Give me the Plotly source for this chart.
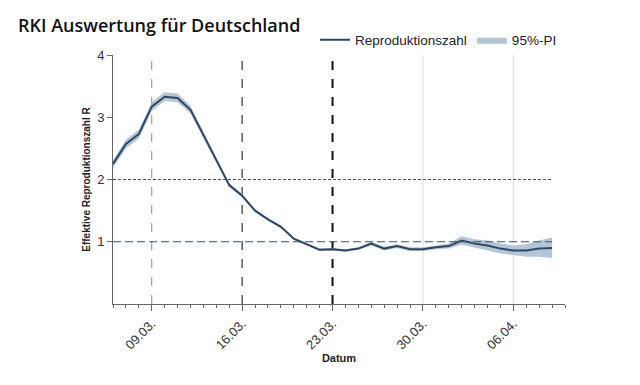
import plotly.graph_objects as go

dates = ["2020-03-%02d" % d for d in range(6, 32)] + ["2020-04-%02d" % d for d in range(1, 10)]
r_values = [2.25, 2.57, 2.73, 3.17, 3.33, 3.31, 3.12, 2.72, 2.31, 1.91,
            1.74, 1.50, 1.36, 1.24, 1.05, 0.96, 0.87, 0.88, 0.86, 0.89,
            0.97, 0.89, 0.93, 0.88, 0.88, 0.91, 0.93, 1.02, 0.97, 0.94,
            0.89, 0.86, 0.86, 0.89, 0.90]
r_lower = [2.19, 2.50, 2.66, 3.10, 3.26, 3.24, 3.06, 2.68, 2.28, 1.88,
           1.71, 1.48, 1.34, 1.22, 1.03, 0.94, 0.85, 0.86, 0.84, 0.87,
           0.94, 0.86, 0.90, 0.85, 0.85, 0.88, 0.89, 0.95, 0.90, 0.86,
           0.81, 0.78, 0.76, 0.76, 0.74]
r_upper = [2.31, 2.64, 2.80, 3.24, 3.40, 3.38, 3.18, 2.76, 2.34, 1.94,
           1.77, 1.52, 1.38, 1.26, 1.07, 0.98, 0.89, 0.90, 0.88, 0.91,
           1.00, 0.92, 0.96, 0.91, 0.91, 0.94, 0.97, 1.09, 1.04, 1.02,
           0.97, 0.94, 0.96, 1.02, 1.07]
tick_dates = ["2020-03-09", "2020-03-16", "2020-03-23", "2020-03-30", "2020-04-06"]
y_ticks = [1, 2, 3, 4]

DAY = 86400000

fig = go.Figure()
fig.add_trace(go.Scatter(
    x=dates + dates[::-1], y=r_upper + r_lower[::-1],
    fill="toself", fillcolor="rgba(155,177,200,0.75)", mode="lines",
    line=dict(width=0, color="rgba(155,177,200,0.75)"),
    name="95%-PI", hoverinfo="skip"))
fig.add_trace(go.Scatter(
    x=dates, y=r_values, mode="lines", name="Reproduktionszahl",
    line=dict(color="#2b4869", width=2)))

# vertical reference lines
vstyles = [("#8a8a8a", 1, "dash"), ("#333333", 1.2, "dash"), ("#111111", 2, "dash"),
           ("#dcdcdc", 1, "solid"), ("#dcdcdc", 1, "solid")]
for d, (c, w, dsh) in zip(tick_dates, vstyles):
    fig.add_shape(type="line", xref="x", yref="y", x0=d, x1=d, y0=0, y1=4,
                  line=dict(color=c, width=w, dash=dsh), layer="below")
# horizontal reference lines
fig.add_shape(type="line", xref="x", yref="y", x0=dates[0], x1=dates[-1], y0=2, y1=2,
              line=dict(color="#3a5270", width=1.2, dash="3px,2px"), layer="above")
fig.add_shape(type="line", xref="x", yref="y", x0=dates[0], x1=dates[-1], y0=1, y1=1,
              line=dict(color="#3a5270", width=1.2, dash="8px,4px"), layer="above")

fig.update_layout(
    width=640, height=385,
    margin=dict(l=105, r=83, t=47, b=89),
    plot_bgcolor="white", paper_bgcolor="white",
    font=dict(family="Liberation Sans, Arial, sans-serif", color="#333333", size=12),
    title=dict(text="RKI Auswertung für Deutschland", x=10/640, xanchor="left",
               y=1-18/385, yanchor="middle",
               font=dict(family="Open Sans", size=18, color="#111111", weight=600)),
    showlegend=True,
    legend=dict(orientation="h", x=0.447, xanchor="left", y=1.06, yanchor="middle",
                traceorder="reversed", font=dict(size=13.5, color="#222222"),
                bgcolor="rgba(0,0,0,0)", itemwidth=30),
    xaxis=dict(range=["2020-03-06", "2020-04-10"], tickmode="linear", tick0=tick_dates[0],
               dtick=7 * DAY, tickformat="%d.%m.",
               tickangle=-45, ticks="outside", ticklen=6, tickcolor="#666666",
               showline=True, linecolor="#666666", linewidth=1, showgrid=False, zeroline=False,
               tickfont=dict(size=13, color="#333333"), automargin=False,
               minor=dict(ticks="outside", ticklen=3, tickcolor="#666666", dtick=DAY,
                          tick0="2020-03-06", showgrid=False),
               title=dict(text="<b>Datum</b>", font=dict(size=11, color="#222222"), standoff=0)),
    yaxis=dict(range=[0, 4], tickvals=y_ticks, ticks="outside", ticklen=5, tickcolor="#666666",
               showline=True, linecolor="#666666", linewidth=1, showgrid=False, zeroline=False,
               tickfont=dict(size=13, color="#333333"), automargin=False,
               title=dict(text="<b>Effektive Reproduktionszahl R</b>",
                          font=dict(size=10, color="#222222"), standoff=4)),
)

fig.write_html("out.html")
